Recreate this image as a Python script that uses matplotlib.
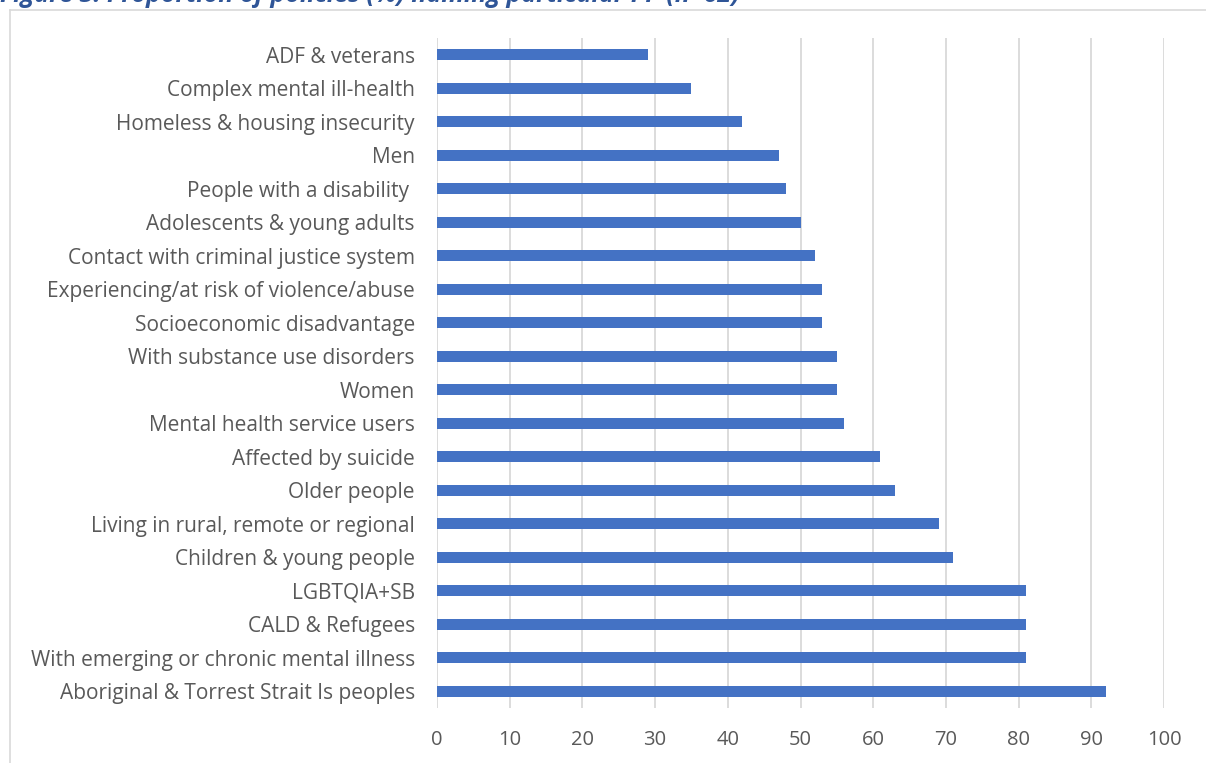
import matplotlib.pyplot as plt
from matplotlib.lines import Line2D

# categories listed bottom to top (as in the source spreadsheet)
categories = [
    "Aboriginal & Torrest Strait Is peoples",
    "With emerging or chronic mental illness",
    "CALD & Refugees",
    "LGBTQIA+SB",
    "Children & young people",
    "Living in rural, remote or regional",
    "Older people",
    "Affected by suicide",
    "Mental health service users",
    "Women",
    "With substance use disorders",
    "Socioeconomic disadvantage",
    "Experiencing/at risk of violence/abuse",
    "Contact with criminal justice system",
    "Adolescents & young adults",
    "People with a disability ",
    "Men",
    "Homeless & housing insecurity",
    "Complex mental ill-health",
    "ADF & veterans",
]
values = [92, 81, 81, 81, 71, 69, 63, 61, 56, 55, 55, 53, 53, 52, 50, 48, 47, 42, 35, 29]
x_ticks = list(range(0, 101, 10))

BAR = "#4472C4"
GRID = "#D9D9D9"
TEXT = "#595959"
TITLE = "#2F5597"

plt.rcParams["font.family"] = ["Open Sans", "DejaVu Sans"]

W, H = 1206, 763
fig = plt.figure(figsize=(W / 100, H / 100), dpi=100)

# chart area border (cut by the image edges)
fig.add_artist(Line2D([10 / W, 10 / W], [0, 1 - 10 / H], color=GRID, lw=1.2))
fig.add_artist(Line2D([10 / W, 1], [1 - 10 / H, 1 - 10 / H], color=GRID, lw=1.2))

# title sits mostly above the visible area, as in the source crop
fig.text(0, 1 - 2 / H, "Figure 3: Proportion of policies (%) naming particular PP (n=62)",
         fontsize=18, fontstyle="italic", fontweight="bold", color=TITLE,
         ha="left", va="baseline")

ax = fig.add_axes([437 / W, 1 - 708 / H, (1164 - 437) / W, (708 - 38) / H])
pos = range(len(categories))
ax.barh(pos, values, height=0.33, color=BAR, zorder=3)

ax.set_xlim(0, 100)
ax.set_ylim(-0.5, len(categories) - 0.5)
ax.set_xticks(x_ticks)
ax.set_yticks(list(pos))
ax.set_yticklabels(categories)
ax.grid(axis="x", color=GRID, lw=1.3, zorder=0)
for s in ax.spines.values():
    s.set_visible(False)
ax.tick_params(axis="both", length=0, colors=TEXT)
ax.tick_params(axis="y", pad=16, labelsize=15)
ax.tick_params(axis="x", pad=16, labelsize=14.5)

fig.savefig("out.png", dpi=100)
